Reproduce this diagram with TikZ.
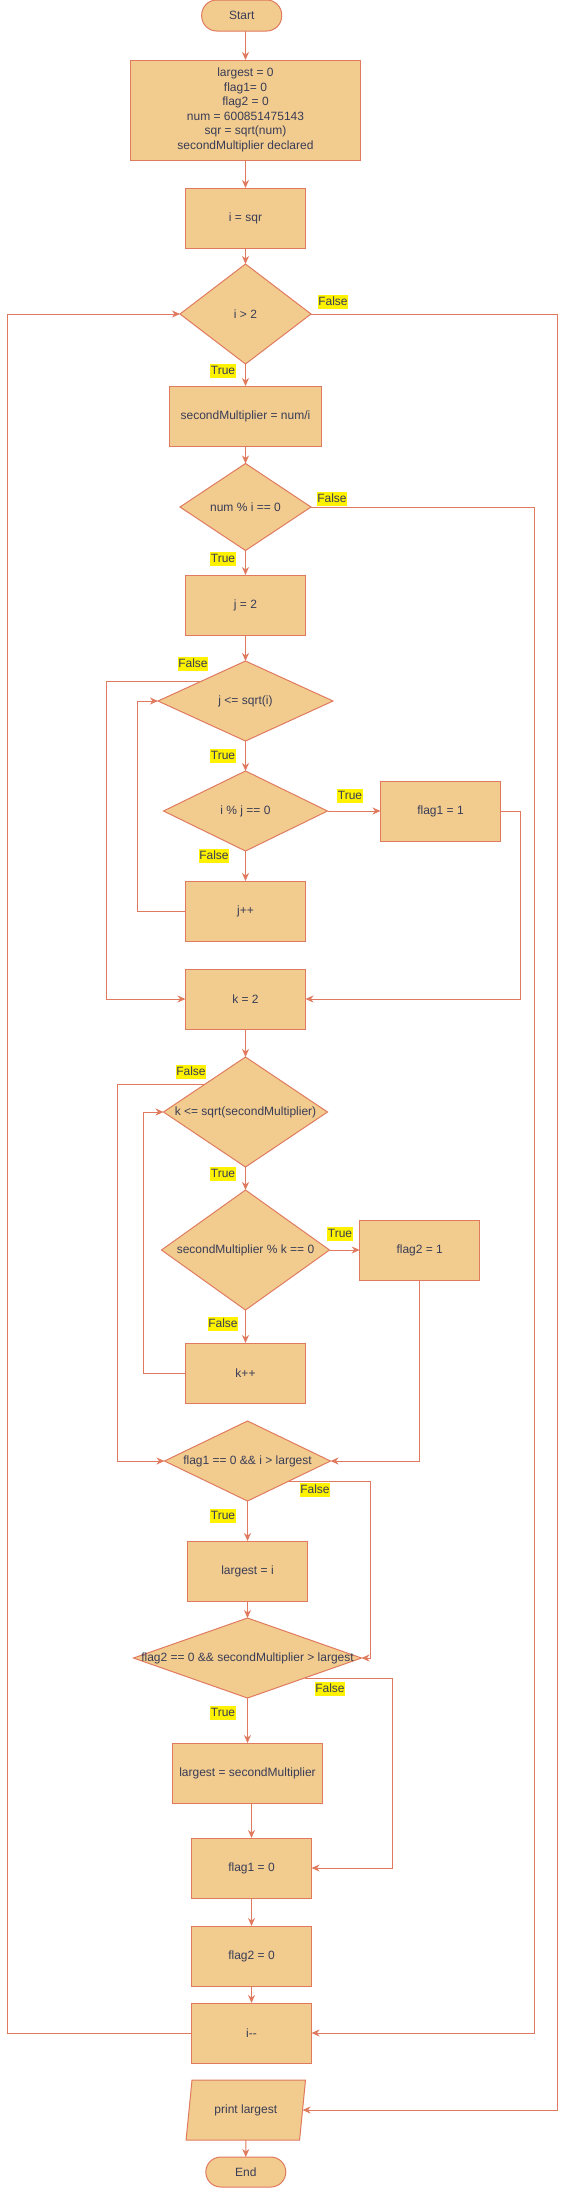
\documentclass[tikz,border=0pt]{standalone}
\usepackage{fontspec}
\setmainfont{Liberation Sans}
\usetikzlibrary{shapes.geometric,arrows.meta}
\definecolor{fillc}{HTML}{F2CC8F}
\definecolor{linec}{HTML}{E07A5F}
\definecolor{textc}{HTML}{393C56}
\begin{document}
\begin{tikzpicture}[x=1pt,y=-1pt,
  base/.style={draw=linec, fill=fillc, line width=1pt, inner sep=0pt, outer sep=0pt, text=textc, font=\fontsize{12}{14.5}\selectfont, align=center},
  proc/.style={base, rectangle},
  term/.style={base, rectangle, rounded corners=15pt},
  dec/.style={base, diamond},
  io/.style={base, trapezium, trapezium left angle=72.8, trapezium right angle=107.2, trapezium stretches=true},
  txt/.style={text=textc, font=\fontsize{12}{14.5}\selectfont, inner sep=0pt},
  lab/.style={fill=yellow, text=textc, font=\fontsize{12}{14.5}\selectfont, inner xsep=0.5pt, inner ysep=1pt, text height=9pt, text depth=2.5pt},
  arr/.style={draw=linec, line width=1pt, -{Stealth[length=8pt,width=7pt,inset=2.5pt]}}
]
\useasboundingbox (0,0) rectangle (566,2188);

% nodes
\node[term, minimum width=80pt, minimum height=31pt] (start) at (241.7,15.5) {Start};
\node[proc, minimum width=230pt, minimum height=100pt] (init) at (245.5,110) {largest = 0\\flag1= 0\\flag2 = 0\\num = 600851475143\\sqr = sqrt(num)\\secondMultiplier declared};
\node[proc, minimum width=120pt, minimum height=60pt] (isqr) at (245.5,218) {i = sqr};
\node[dec, minimum width=131pt, minimum height=100pt] (d1) at (245.5,314) {};
\node[txt] (d1t) at (d1) {i \textgreater{} 2};
\node[proc, minimum width=152pt, minimum height=60pt] (sm) at (245.5,416) {secondMultiplier = num/i};
\node[dec, minimum width=131pt, minimum height=87pt] (d2) at (245.5,507) {};
\node[txt] (d2t) at (d2) {num \% i == 0};
\node[proc, minimum width=120pt, minimum height=60pt] (j2) at (245.5,605) {j = 2};
\node[dec, minimum width=175pt, minimum height=80pt] (d3) at (245.5,701) {};
\node[txt] (d3t) at (d3) {j \textless= sqrt(i)};
\node[dec, minimum width=164pt, minimum height=80pt] (d4) at (245.5,811) {};
\node[txt] (d4t) at (d4) {i \% j == 0};
\node[proc, minimum width=120pt, minimum height=60pt] (f11) at (440.5,811) {flag1 = 1};
\node[proc, minimum width=120pt, minimum height=60pt] (jpp) at (245.5,911) {j++};
\node[proc, minimum width=120pt, minimum height=60pt] (k2) at (245.5,999) {k = 2};
\node[dec, minimum width=164pt, minimum height=110pt] (d5) at (245.5,1112) {};
\node[txt] (d5t) at (d5) {k \textless= sqrt(secondMultiplier)};
\node[dec, minimum width=168pt, minimum height=120pt] (d6) at (245.5,1250) {};
\node[txt] (d6t) at (d6) {secondMultiplier \% k == 0};
\node[proc, minimum width=120pt, minimum height=60pt] (f21) at (419.7,1250) {flag2 = 1};
\node[proc, minimum width=120pt, minimum height=60pt] (kpp) at (245.5,1373) {k++};
\node[dec, minimum width=166pt, minimum height=80pt] (d7) at (247.5,1461) {};
\node[txt] (d7t) at (d7) {flag1 == 0 \&\& i \textgreater{} largest};
\node[proc, minimum width=120pt, minimum height=60pt] (li) at (247.5,1571) {largest = i};
\node[dec, minimum width=228pt, minimum height=80pt] (d8) at (247.5,1658) {};
\node[txt] (d8t) at (d8) {flag2 == 0 \&\& secondMultiplier \textgreater{} largest};
\node[proc, minimum width=150pt, minimum height=60pt] (lsm) at (247.5,1773) {largest = secondMultiplier};
\node[proc, minimum width=120pt, minimum height=60pt] (f10) at (251.5,1868) {flag1 = 0};
\node[proc, minimum width=120pt, minimum height=60pt] (f20) at (251.5,1956) {flag2 = 0};
\node[proc, minimum width=120pt, minimum height=60pt] (idec) at (251.5,2033) {i-{}-};
\node[io, minimum width=120pt, minimum height=60pt] (pr) at (245.8,2110) {print largest};
\node[term, minimum width=80pt, minimum height=30pt] (end) at (245.8,2172) {End};

% routing coordinates
\coordinate (lout) at (7,0);
\coordinate (rout) at (557,0);
\coordinate (rin) at (534,0);
\coordinate (jl) at (137,0);
\coordinate (jf) at (106,0);
\coordinate (f1r) at (520,0);
\coordinate (kl) at (143,0);
\coordinate (kf) at (117,0);
\coordinate (d7f) at (370,0);
\coordinate (d8f) at (392,0);

% connectors
\draw[arr] (start.south -| init.north) -- (init.north);
\draw[arr] (init.south) -- (isqr.north);
\draw[arr] (isqr.south) -- (d1.north);
\draw[arr] (d1.south) -- (sm.north);
\draw[arr] (d1.east) -- (d1.east -| rout) |- (pr.east);
\draw[arr] (sm.south) -- (d2.north);
\draw[arr] (d2.south) -- (j2.north);
\draw[arr] (d2.east) -- (d2.east -| rin) |- (idec.east);
\draw[arr] (j2.south) -- (d3.north);
\draw[arr] (d3.south) -- (d4.north);
\draw[arr] (d3.north west) -- (d3.north west -| jf) |- (k2.west);
\draw[arr] (d4.east) -- (f11.west);
\draw[arr] (d4.south) -- (jpp.north);
\draw[arr] (jpp.west) -- (jpp.west -| jl) |- (d3.west);
\draw[arr] (f11.east) -- (f11.east -| f1r) |- (k2.east);
\draw[arr] (k2.south) -- (d5.north);
\draw[arr] (d5.south) -- (d6.north);
\draw[arr] (d5.north west) -- (d5.north west -| kf) |- (d7.west);
\draw[arr] (d6.east) -- (f21.west);
\draw[arr] (d6.south) -- (kpp.north);
\draw[arr] (kpp.west) -- (kpp.west -| kl) |- (d5.west);
\draw[arr] (f21.south) |- (d7.east);
\draw[arr] (d7.south) -- (li.north);
\draw[arr] (d7.south east) -- (d7.south east -| d7f) |- (d8.east);
\draw[arr] (li.south) -- (d8.north);
\draw[arr] (d8.south) -- (lsm.north);
\draw[arr] (d8.south east) -- (d8.south east -| d8f) |- (f10.east);
\draw[arr] (f10.north |- lsm.south) -- (f10.north);
\draw[arr] (f10.south) -- (f20.north);
\draw[arr] (f20.south) -- (idec.north);
\draw[arr] (idec.west) -- (idec.west -| lout) |- (d1.west);
\draw[arr] (pr.south) -- (end.north);

% edge labels
\node[lab] (l1) at (333,302) {False};
\node[lab] (l2) at (223,371) {True};
\node[lab] (l3) at (332,499) {False};
\node[lab] (l4) at (223,559) {True};
\node[lab] (l5) at (193,664) {False};
\node[lab] (l6) at (223,756) {True};
\node[lab] (l7) at (350,796) {True};
\node[lab] (l8) at (214,856) {False};
\node[lab] (l9) at (191,1072) {False};
\node[lab] (l10) at (223,1174) {True};
\node[lab] (l11) at (340,1234) {True};
\node[lab] (l12) at (223,1324) {False};
\node[lab] (l13) at (315,1490) {False};
\node[lab] (l14) at (223,1516) {True};
\node[lab] (l15) at (330,1689) {False};
\node[lab] (l16) at (223,1713) {True};
\end{tikzpicture}
\end{document}
